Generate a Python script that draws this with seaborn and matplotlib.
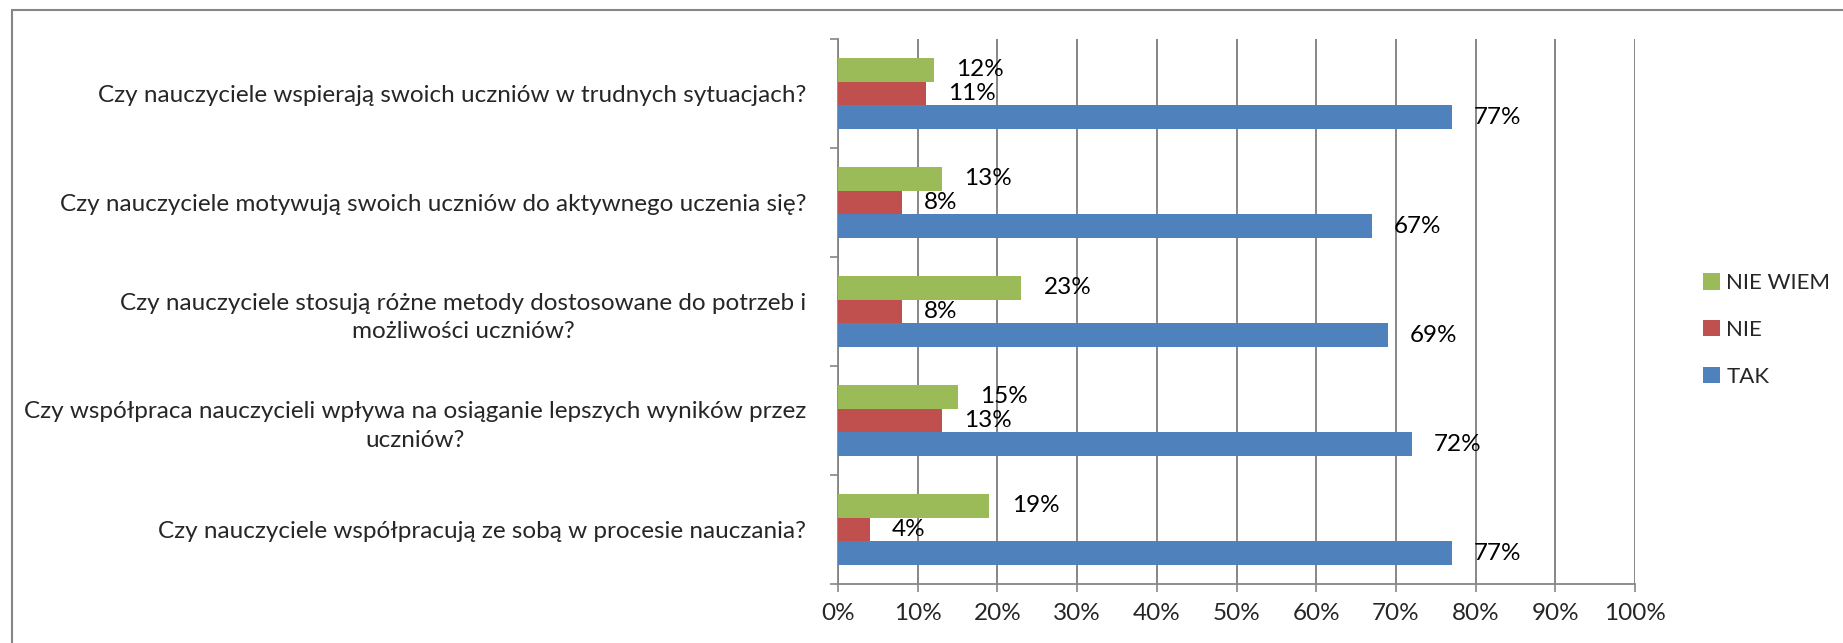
import matplotlib
matplotlib.use("Agg")
import matplotlib.pyplot as plt
import matplotlib.ticker as mticker
from matplotlib.lines import Line2D
import seaborn as sns
import pandas as pd

questions = [
    "Czy nauczyciele wspierają swoich uczniów w trudnych sytuacjach?",
    "Czy nauczyciele motywują swoich uczniów do aktywnego uczenia się?",
    "Czy nauczyciele stosują różne metody dostosowane do potrzeb i\nmożliwości uczniów?",
    "Czy współpraca nauczycieli wpływa na osiąganie lepszych wyników przez\nuczniów?",
    "Czy nauczyciele współpracują ze sobą w procesie nauczania?",
]
series_names = ["NIE WIEM", "NIE", "TAK"]
nie_wiem = [12, 13, 23, 15, 19]
nie = [11, 8, 8, 13, 4]
tak = [77, 67, 69, 72, 77]
colors = ["#9BBB59", "#C0504D", "#4F81BD"]
x_ticks = [0, 10, 20, 30, 40, 50, 60, 70, 80, 90, 100]

rows = []
for name, vals in zip(series_names, [nie_wiem, nie, tak]):
    for q, v in zip(questions, vals):
        rows.append({"question": q, "answer": name, "value": v})
df = pd.DataFrame(rows)

sns.set_style("white")
plt.rcParams["font.family"] = ["Lato", "DejaVu Sans"]
FS = 17.5

fig = plt.figure(figsize=(18.43, 6.43), dpi=100)
W, H = 1843, 643
x0, x1, yt, yb = 838, 1635, 39, 584
ax = fig.add_axes([x0 / W, (H - yb) / H, (x1 - x0) / W, (yb - yt) / H])

sns.barplot(data=df, y="question", x="value", hue="answer", order=questions,
            hue_order=series_names, palette=colors, orient="h", width=0.66,
            dodge=True, ax=ax, legend=True, zorder=3, linewidth=0, saturation=1)

for cont in ax.containers:
    vals = [int(round(b.get_width())) for b in cont]
    ax.bar_label(cont, labels=[f"{v}%" for v in vals], padding=16, fontsize=FS,
                 color="black")

gray = "#868686"
ax.set_xlim(0, 100)
ax.set_ylim(len(questions) - 0.5, -0.5)
ax.set_xticks(x_ticks)
ax.xaxis.set_major_formatter(mticker.FuncFormatter(lambda v, p: f"{int(v)}%"))
ax.tick_params(axis="x", which="major", direction="out", length=6, width=1.2,
               color=gray, labelsize=FS, pad=8, bottom=True)
ax.grid(axis="x", color=gray, linewidth=1.4, zorder=0)
ax.set_axisbelow(True)

# category boundaries as major ticks, labels at centers as minor ticks
ax.set_yticks([i - 0.5 for i in range(len(questions) + 1)])
ax.set_yticklabels([])
ax.set_yticks(range(len(questions)), minor=True)
ax.set_yticklabels(questions, minor=True, linespacing=1.45)
ax.tick_params(axis="y", which="major", direction="out", length=6, width=1.2,
               color=gray, left=True)
ax.tick_params(axis="y", which="minor", length=0, labelsize=FS, left=True, pad=23)
for lab in ax.get_yticklabels(minor=True):
    lab.set_horizontalalignment("right")
    lab.set_multialignment("center")

ax.set_xlabel("")
ax.set_ylabel("")
for s in ["top", "right"]:
    ax.spines[s].set_visible(False)
for s in ["left", "bottom"]:
    ax.spines[s].set_color(gray)
    ax.spines[s].set_linewidth(1.3)

handles, labels = ax.get_legend_handles_labels()
ax.legend(handles, labels, loc="center left", bbox_to_anchor=(1703 / W, (H - 330) / H),
          bbox_transform=fig.transFigure, frameon=False, fontsize=16,
          handlelength=0.75, handleheight=0.75, handletextpad=0.3,
          labelspacing=1.2, borderaxespad=0, borderpad=0)

# outer chart border (top & left visible)
fig.add_artist(Line2D([12 / W, 12 / W], [0, (H - 10) / H], transform=fig.transFigure,
                      color=gray, linewidth=1.5))
fig.add_artist(Line2D([12 / W, 1], [(H - 10) / H, (H - 10) / H], transform=fig.transFigure,
                      color=gray, linewidth=1.5))

fig.savefig("out.png", dpi=100, facecolor="white")
